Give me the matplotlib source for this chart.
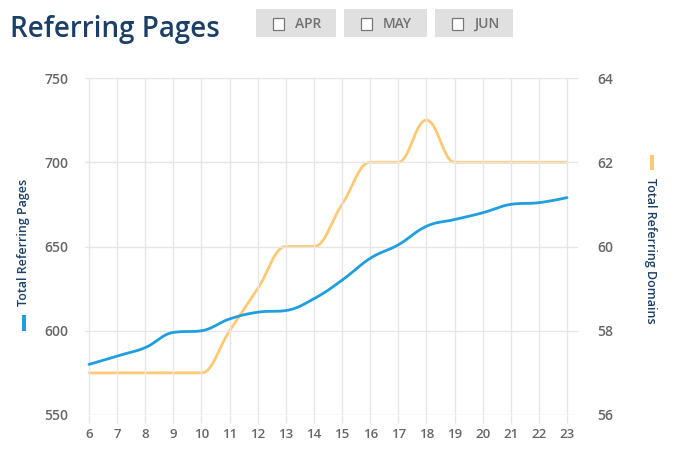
import numpy as np
import matplotlib
matplotlib.use("Agg")
import matplotlib.pyplot as plt
from matplotlib.patches import Rectangle

days = list(range(6, 24))
total_pages = [580, 585, 590, 599, 600, 607, 611, 612, 619, 630, 643, 651, 662, 666, 670, 675, 676, 679]
total_domains = [57, 57, 57, 57, 57, 58, 59, 60, 60, 61, 62, 62, 63, 62, 62, 62, 62, 62]
left_ticks = [550, 600, 650, 700, 750]
right_ticks = [56, 58, 60, 62, 64]
buttons = ["APR", "MAY", "JUN"]

BLUE = "#1f9ee0"
ORANGE = "#ffc973"
GRID = "#e6e6e6"
TICKC = "#666666"
TITLEC = "#1b3f66"

plt.rcParams['font.family'] = ['Open Sans', 'DejaVu Sans']


def spline(xs, ys, n=40):
    """Highcharts-style spline through points."""
    xs = np.asarray(xs, float); ys = np.asarray(ys, float)
    N = len(xs)
    lc = [(xs[0], ys[0])] * N
    rc = [(xs[0], ys[0])] * N
    sm, den = 1.5, 2.5
    for i in range(N):
        if 0 < i < N - 1:
            px, py = xs[i], ys[i]
            lx, ly = xs[i - 1], ys[i - 1]
            nx, ny = xs[i + 1], ys[i + 1]
            lcx = (sm * px + lx) / den; lcy = (sm * py + ly) / den
            rcx = (sm * px + nx) / den; rcy = (sm * py + ny) / den
            if rcx != lcx:
                corr = ((rcy - lcy) * (rcx - px)) / (rcx - lcx) + py - rcy
                lcy += corr; rcy += corr
            if lcy > ly and lcy > py:
                lcy = max(ly, py); rcy = 2 * py - lcy
            elif lcy < ly and lcy < py:
                lcy = min(ly, py); rcy = 2 * py - lcy
            if rcy > ny and rcy > py:
                rcy = max(ny, py); lcy = 2 * py - rcy
            elif rcy < ny and rcy < py:
                rcy = min(ny, py); lcy = 2 * py - rcy
            lc[i] = (lcx, lcy); rc[i] = (rcx, rcy)
        else:
            lc[i] = (xs[i], ys[i]); rc[i] = (xs[i], ys[i])
    ox, oy = [xs[0]], [ys[0]]
    t = np.linspace(0, 1, n)[1:]
    for i in range(1, N):
        p0 = np.array([xs[i - 1], ys[i - 1]])
        p1 = np.array(rc[i - 1]); p2 = np.array(lc[i]); p3 = np.array([xs[i], ys[i]])
        pts = ((1 - t) ** 3)[:, None] * p0 + (3 * (1 - t) ** 2 * t)[:, None] * p1 + \
              (3 * (1 - t) * t ** 2)[:, None] * p2 + (t ** 3)[:, None] * p3
        ox.extend(pts[:, 0]); oy.extend(pts[:, 1])
    return np.array(ox), np.array(oy)


fig = plt.figure(figsize=(6.8, 4.5), dpi=100)
W, H = 680, 450
L, R, T, B = 85, 578, 78, 415
ax = fig.add_axes([L / W, 1 - B / H, (R - L) / W, (B - T) / H])
ax2 = ax.twinx()

ax.set_xlim(6 - 4 / 28.12, 23 + 11 / 28.12)
ax.set_ylim(550, 750)
ax2.set_ylim(56, 64)

ax.set_yticks(left_ticks)
ax2.set_yticks(right_ticks)
ax.set_xticks(days)
ax.grid(True, color=GRID, lw=1)
ax.set_axisbelow(True)
for a in (ax, ax2):
    for s in a.spines.values():
        s.set_visible(False)
ax.tick_params(axis='x', colors=GRID, length=6, width=1, labelcolor=TICKC, labelsize=9.5, pad=3)
ax.tick_params(axis='y', length=0, labelcolor=TICKC, labelsize=10, pad=12)
ax2.tick_params(axis='y', length=0, labelcolor=TICKC, labelsize=10, pad=14)
for lab in ax.get_yticklabels() + ax2.get_yticklabels() + ax.get_xticklabels():
    lab.set_fontweight('semibold')

bx, by = spline(days, total_pages)
ox, oy = spline(days, total_domains)
ax2.plot(ox, oy, color=ORANGE, lw=2, solid_capstyle='round', zorder=2)
ax.plot(bx, by, color=BLUE, lw=2, solid_capstyle='round', zorder=3)
ax.set_zorder(ax2.get_zorder() + 1)
ax.patch.set_visible(False)

# axis titles with markers
fig.text(24 / W, 1 - 242 / H, "Total Referring Pages", rotation=90, ha='center', va='center',
         fontsize=9, color=TITLEC, fontweight='semibold')
fig.patches.append(Rectangle((22 / W, 1 - 331 / H), 4 / W, 16 / H, transform=fig.transFigure,
                             facecolor=BLUE, edgecolor='none'))
fig.text(651 / W, 1 - 251 / H, "Total Referring Domains", rotation=-90, ha='center', va='center',
         fontsize=9, color=TITLEC, fontweight='semibold')
fig.patches.append(Rectangle((650 / W, 1 - 170 / H), 4 / W, 15 / H, transform=fig.transFigure,
                             facecolor=ORANGE, edgecolor='none'))

# title
fig.text(10 / W, 1 - 29 / H, "Referring Pages", ha='left', va='center', fontsize=20,
         color=TITLEC, fontweight='semibold')

# buttons
bxs = [(256, 336), (344, 427), (435, 513)]
for (x0, x1), lab in zip(bxs, buttons):
    fig.patches.append(Rectangle((x0 / W, 1 - 37 / H), (x1 - x0) / W, 28 / H, transform=fig.transFigure,
                                 facecolor="#e0e0e0", edgecolor='none'))
    cx = x0 + 17
    fig.patches.append(Rectangle((cx / W, 1 - 30 / H), 11 / W, 12 / H, transform=fig.transFigure,
                                 facecolor="#ffffff", edgecolor="#777777", lw=0.9))
    fig.text((cx + 22) / W, 1 - 24 / H, lab, ha='left', va='center', fontsize=10,
             color="#707070", fontweight='semibold')

fig.savefig("out.png", dpi=100)
